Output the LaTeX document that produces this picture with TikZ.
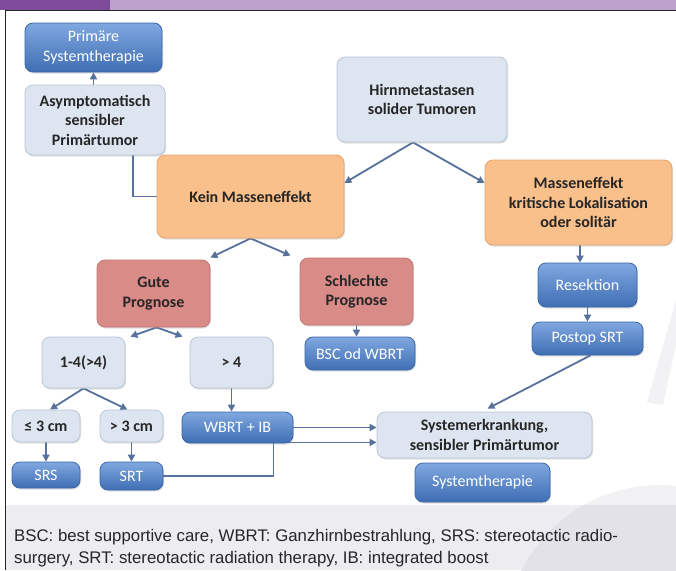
\documentclass[tikz,border=0pt]{standalone}
\usepackage{fontspec}
\setmainfont{Carlito}
\newfontfamily\capfont{Liberation Sans}
\usetikzlibrary{shadows,arrows.meta,calc}
\definecolor{greybox}{HTML}{DDE5F0}
\definecolor{greyline}{HTML}{BAC6D8}
\definecolor{orangebox}{HTML}{F9C08C}
\definecolor{orangeline}{HTML}{E6A56F}
\definecolor{redbox}{HTML}{D98B87}
\definecolor{redline}{HTML}{C27571}
\definecolor{bluetop}{HTML}{80A8E0}
\definecolor{bluebot}{HTML}{3F6EB4}
\definecolor{blueline}{HTML}{3A66A8}
\definecolor{arrowc}{HTML}{56719C}
\definecolor{purpledark}{HTML}{7D4B99}
\definecolor{purplelight}{HTML}{BCA2CD}
\definecolor{capbg}{HTML}{EDECF1}
\definecolor{wmlight}{HTML}{F2F2F4}
\definecolor{wmdark}{HTML}{E3E2E9}
\pgfdeclarelayer{back}
\pgfdeclarelayer{edges}
\pgfsetlayers{back,edges,main}
\begin{document}
\begin{tikzpicture}[x=1pt,y=-1pt,
  box/.style={rounded corners=8pt, align=center, inner sep=0pt,
    font=\fontsize{16}{19.5}\selectfont\bfseries, text=black!85, line width=0.8pt,
    drop shadow={opacity=0.25,shadow xshift=1pt,shadow yshift=-1.5pt}},
  greyb/.style={box, fill=greybox, draw=greyline},
  orangeb/.style={box, fill=orangebox, draw=orangeline},
  redb/.style={box, fill=redbox, draw=redline},
  blueb/.style={box, top color=bluetop, bottom color=bluebot, draw=blueline,
    text=white, font=\fontsize{16}{19.5}\selectfont},
  link/.style={draw=arrowc, line width=1.8pt},
  arr/.style={link, -{Triangle[length=7pt,width=7pt]}},
  capt/.style={anchor=base west, inner sep=0pt, text=black!85,
    font=\capfont\fontsize{16.8}{22}\selectfont},
]
\useasboundingbox (0,0) rectangle (676,570);

\begin{pgfonlayer}{back}
  \fill[white] (0,0) rectangle (676,570);
  \fill[capbg] (6,505) rectangle (676,570);
  \begin{scope}
    \clip (6,11) rectangle (676,505);
    \fill[wmlight] (660,640) circle[radius=155];
    \fill[wmlight] (676,300) -- (676,345) -- (663,405) -- (647,402) -- cycle;
  \end{scope}
  \begin{scope}
    \clip (6,505) rectangle (676,570);
    \fill[wmdark] (660,640) circle[radius=155];
  \end{scope}
  \fill[purpledark] (0,0) rectangle (110,9.5);
  \fill[purplelight] (110,0) rectangle (676,9.5);
  \draw[line width=1.6pt, black!85] (5,10.5) -- (676,10.5);
  \draw[line width=1.2pt, black!85] (5.5,10) -- (5.5,570);
\end{pgfonlayer}

% nodes
\node[blueb, minimum width=137, minimum height=49] (prim) at (93.5,47.5) {Primäre\\Systemtherapie};
\node[greyb, minimum width=140, minimum height=70] (asym) at (95,120) {Asymptomatisch\\sensibler\\Primärtumor};
\node[orangeb, minimum width=187, minimum height=83] (kein) at (250.5,196.5) {Kein Masseneffekt};
\node[greyb, minimum width=170, minimum height=85] (hirn) at (422,99.5) {Hirnmetastasen\\solider Tumoren};
\node[orangeb, minimum width=187, minimum height=85] (mass) at (578.5,202.5) {Masseneffekt\\kritische Lokalisation\\oder solitär};
\node[blueb, minimum width=99, minimum height=44] (res) at (587.5,285) {Resektion};
\node[blueb, minimum width=111, minimum height=33] (postop) at (587.5,338.5) {Postop SRT};
\node[redb, minimum width=113, minimum height=67] (gute) at (153.5,293.5) {Gute\\Prognose};
\node[redb, minimum width=113, minimum height=67] (schl) at (356.5,291.5) {Schlechte\\Prognose};
\node[blueb, minimum width=110, minimum height=33] (bsc) at (360,353.5) {BSC od WBRT};
\node[greyb, minimum width=83, minimum height=51] (one4) at (83.5,362.5) {1-4(>4)};
\node[greyb, minimum width=83, minimum height=51] (gt4) at (231.5,362.5) {> 4};
\node[greyb, minimum width=68, minimum height=32] (le3) at (46,426) {≤ 3 cm};
\node[greyb, minimum width=63, minimum height=32] (gt3) at (131.5,426) {> 3 cm};
\node[blueb, minimum width=68, minimum height=26] (srs) at (46,475) {SRS};
\node[blueb, minimum width=63, minimum height=28] (srt) at (131.5,476) {SRT};
\node[blueb, minimum width=111, minimum height=31] (wbrt) at (237.5,427.5) {WBRT + IB};
\node[greyb, minimum width=215, minimum height=46] (sys) at (484.5,435) {Systemerkrankung,\\sensibler Primärtumor};
\node[blueb, minimum width=135, minimum height=39] (systh) at (482.5,482.5) {Systemtherapie};
\coordinate (bend) at ([xshift=-20pt,yshift=1pt]wbrt.south east);

% caption
\node[capt] (cap1) at (14,541) {BSC: best supportive care, WBRT: Ganzhirnbestrahlung, SRS: stereotactic radio-};
\node[capt] (cap2) at (14,563) {surgery, SRT: stereotactic radiation therapy, IB: integrated boost};

% connectors
\begin{pgfonlayer}{edges}
  \draw[arr] (prim.south |- asym.north) -- (prim.south);
  \draw[link] (kein.west) -| ([xshift=38pt]asym.south);
  \draw[arr] ([xshift=-9pt]hirn.south) -- ([yshift=13.5pt]kein.east);
  \draw[arr] ([xshift=-9pt]hirn.south) -- ([yshift=19.5pt]mass.west);
  \draw[arr] (kein.south) -- ([yshift=2pt]gute.north east);
  \draw[arr] (kein.south) -- ([xshift=-9pt,yshift=2pt]schl.north west);
  \draw[arr] ([xshift=3pt]gute.south) -- ([xshift=5pt]one4.north east);
  \draw[arr] ([xshift=3pt]gute.south) -- ([xshift=-7pt]gt4.north west);
  \draw[arr] (one4.south) -- ([xshift=4pt]le3.north);
  \draw[arr] (one4.south) -- ([xshift=-4pt]gt3.north);
  \draw[arr] (le3.south) -- (srs.north);
  \draw[arr] (gt3.south) -- (srt.north);
  \draw[arr] (gt4.south) -- (gt4.south |- wbrt.north);
  \draw[arr] (schl.south) -- (schl.south |- bsc.north);
  \draw[arr] ([xshift=1.5pt]mass.south) -- ([xshift=1.5pt]mass.south |- res.north);
  \draw[arr] (res.south) -- (postop.north);
  \draw[arr] ([xshift=3pt]postop.south) -- ([xshift=3pt,yshift=3pt]sys.north);
  \draw[arr] (wbrt.east) -- (sys.west |- wbrt.east);
  \draw[arr] (srt.east) -| (bend) -- (sys.west |- bend);
\end{pgfonlayer}
\end{tikzpicture}
\end{document}
